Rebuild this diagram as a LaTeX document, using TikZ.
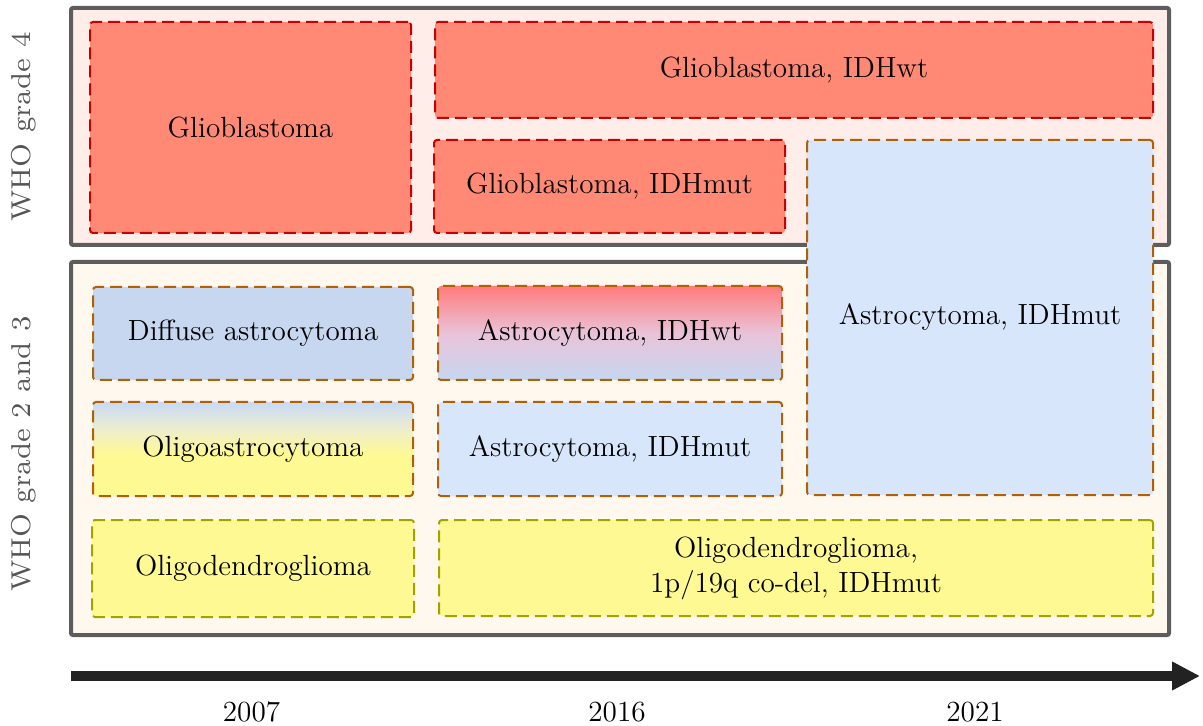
\documentclass[tikz,border=0pt]{standalone}
\usepackage{tikz}
\usetikzlibrary{arrows.meta}

\definecolor{gbfill}{HTML}{FF8975}
\definecolor{gbdraw}{HTML}{C80000}
\definecolor{topbg}{HTML}{FFEDEA}
\definecolor{botbg}{HTML}{FFF8EE}
\definecolor{outline}{HTML}{5D5D5D}
\definecolor{astfill}{HTML}{D8E6FC}
\definecolor{diffblue}{HTML}{C6D7EF}
\definecolor{astdraw}{HTML}{B06007}
\definecolor{oligofill}{HTML}{FFF993}
\definecolor{oligodraw}{HTML}{A3A300}
\definecolor{oligomid}{HTML}{ECEDCF}
\definecolor{oligotop}{HTML}{C8DAF7}
\definecolor{wtred}{HTML}{FF7B7B}
\definecolor{wtmid}{HTML}{E9C3D9}
\definecolor{labelgray}{HTML}{555555}
\definecolor{arrowblack}{HTML}{222222}

\pgfdeclareverticalshading{oligoshade}{100bp}{color(0bp)=(oligofill); color(25bp)=(oligofill); color(47bp)=(oligofill); color(61bp)=(oligomid); color(75bp)=(oligotop); color(100bp)=(oligotop)}

\begin{document}
\begin{tikzpicture}[x=0.5pt,y=-0.5pt,
  every node/.style={font=\fontsize{14.6}{17.5}\selectfont},
  gradebox/.style={rectangle,draw=outline,line width=2pt,rounded corners=1pt,inner sep=0pt},
  tumour/.style={rectangle,draw,line width=1pt,dash pattern=on 6pt off 3pt,rounded corners=1.5pt,inner sep=2pt,align=center},
  gradefour/.style={tumour,draw=gbdraw,fill=gbfill},
  astro/.style={tumour,draw=astdraw,fill=astfill},
  oligo/.style={tumour,draw=oligodraw,fill=oligofill},
  gradelabel/.style={rotate=90,text=labelgray,font=\fontsize{7}{8}\selectfont,scale=1.95},
  timeline/.style={line width=5pt,draw=arrowblack,-{Triangle[length=14pt,width=13.5pt]}}]
\useasboundingbox (0,0) rectangle (1203,726);

% grade boxes
\node[gradebox,fill=topbg,minimum width=549pt,minimum height=118.5pt] (gfour)   at (620,126.5) {};
\node[gradebox,fill=botbg,minimum width=549pt,minimum height=186.5pt] (gtwothree) at (620,448.5) {};
\node[gradelabel] (lfour)     at (24,127) {WHO grade 4};
\node[gradelabel] (ltwothree) at (24,454) {WHO grade 2 and 3};

% grade 4
\node[gradefour,minimum width=160.5pt,minimum height=105.5pt] (glio)    at (250.5,127.5) {Glioblastoma};
\node[gradefour,minimum width=359pt,minimum height=48pt]      (gliowt)  at (794,70)      {Glioblastoma, IDHwt};
\node[gradefour,minimum width=175.5pt,minimum height=46.5pt]  (gliomut) at (609.5,186.5) {Glioblastoma, IDHmut};

% grade 2 and 3
\node[astro,minimum width=173pt,minimum height=177.5pt] (astmutnew) at (980,317.5) {Astrocytoma, IDHmut};
\node[astro,fill=diffblue,minimum width=160pt,minimum height=46.5pt] (diffuse) at (253,333.5) {Diffuse astrocytoma};
\node[astro,top color=wtred,bottom color=diffblue,middle color=wtmid,minimum width=172pt,minimum height=47pt] (astwt) at (610,333) {Astrocytoma, IDHwt};
\node[astro,shading=oligoshade,minimum width=160pt,minimum height=47pt] (oligoastro) at (253,449) {Oligoastrocytoma};
\node[astro,minimum width=172pt,minimum height=47pt] (astmut) at (610,449) {Astrocytoma, IDHmut};
\node[oligo,minimum width=161pt,minimum height=48.5pt] (oligoold) at (253,568.5) {Oligodendroglioma};
\node[oligo,minimum width=357pt,minimum height=48pt]   (oligonew) at (796,568) {Oligodendroglioma,\\1p/19q co-del, IDHmut};

% time axis
\coordinate (tstart) at (71,676);
\coordinate (tend)   at (1200,676);
\draw[timeline] (tstart) -- (tend);
\node (y2007) at (251.5,712) {2007};
\node (y2016) at (617,712)   {2016};
\node (y2021) at (975,712)   {2021};
\end{tikzpicture}
\end{document}
